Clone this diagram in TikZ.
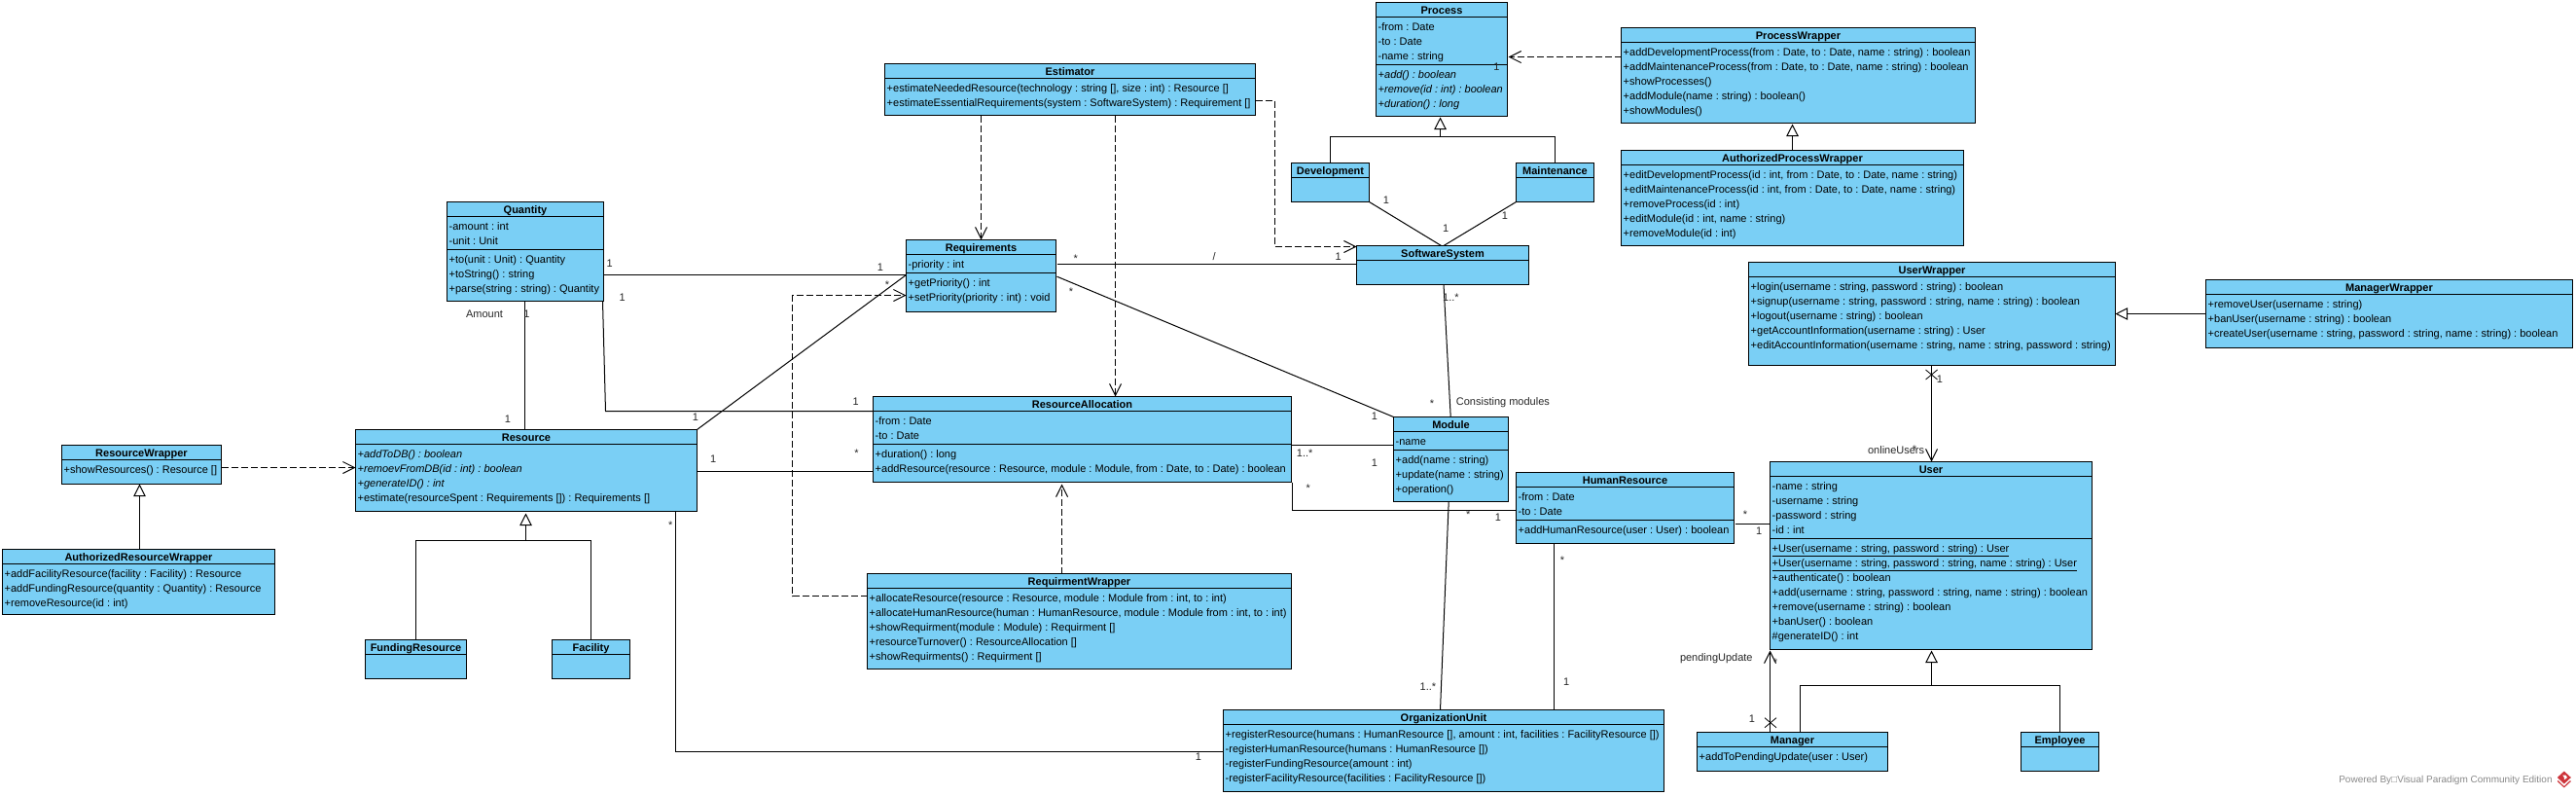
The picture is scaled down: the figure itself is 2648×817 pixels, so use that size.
\documentclass[tikz,border=0pt]{standalone}
\usepackage{fontspec}
\setmainfont{Liberation Sans}
\usetikzlibrary{arrows.meta,calc}
\definecolor{umlblue}{RGB}{122,207,245}
\definecolor{vpgray}{RGB}{136,136,136}
\definecolor{vpred}{RGB}{205,52,58}
\frenchspacing
\tikzset{
  umlbox/.style={draw=black,fill=umlblue,line width=1pt,inner sep=0pt,outer sep=0pt,anchor=north west},
  umltitle/.style={inner sep=0pt,anchor=base,font=\fontsize{11}{13}\selectfont\bfseries},
  umlrow/.style={inner sep=0pt,anchor=base west,font=\fontsize{11}{13}\selectfont},
  lbl/.style={inner sep=0pt,anchor=base,font=\fontsize{11}{13}\selectfont,text=black!85},
  conn/.style={line width=1pt,draw=black},
  dep/.style={conn,dash pattern=on 7pt off 3pt,-{Straight Barb[length=12pt,width=12pt,line width=1pt]}},
  gen/.style={conn,-{Triangle[open,fill=white,length=12.5pt,width=12.5pt,line width=1pt]}},
  nav/.style={conn,-{Straight Barb[length=12pt,width=12pt,line width=1pt]}}
}
% id L T R B title nAttr attrs ops
\newcommand{\umlclass}[9]{%
  \pgfmathsetmacro{\xL}{floor(#2)+.5}\pgfmathsetmacro{\xR}{floor(#4)+.5}%
  \pgfmathsetmacro{\yT}{floor(#3)+.5}\pgfmathsetmacro{\yB}{floor(#5)+.5}%
  \pgfmathsetmacro{\bw}{\xR-\xL}\pgfmathsetmacro{\bh}{\yB-\yT}%
  \node[umlbox,minimum width=\bw pt,minimum height=\bh pt] (#1) at (\xL,\yT) {};
  \draw[line width=1pt] (#1.north west)++(0,-15pt) -- ++(\bw pt,0);
  \node[umltitle] (#1-t) at ({(\xL+\xR)/2},{\yT+12}) {#6};
  \pgfmathsetmacro{\opsy}{\yT+29}%
  \ifnum#7>0
    \foreach \rowtxt [count=\rowidx] in {#8} {
      \node[umlrow] (#1-a\rowidx) at ({\xL+2},{\yT+29+15*(\rowidx-1)}) {\rowtxt};
    }
    \pgfmathsetmacro{\sepy}{15+15*#7+4}%
    \draw[line width=1pt] (#1.north west)++(0,-\sepy pt) -- ++(\bw pt,0);
    \pgfmathsetmacro{\opsy}{\yT+\sepy+14}%
  \fi
  \if\relax\detokenize{#9}\relax\else
    \foreach \rowtxt [count=\rowidx] in {#9} {
      \node[umlrow] (#1-o\rowidx) at ({\xL+2},{\opsy+15*(\rowidx-1)}) {\rowtxt};
    }
  \fi
}
\newcommand{\lab}[4]{\node[lbl] (#1) at (#2,{#3+4}) {#4};}
\newcommand{\st}[3]{\node[lbl] (#1) at (#2,{#3+6}) {*};}
\newcommand{\nonav}[3]{%
  \coordinate (#1) at (#2,#3);
  \draw[line width=.8pt] ($(#1)+(-6,-5)$) -- ($(#1)+(6,5)$);
  \draw[line width=.8pt] ($(#1)+(-6,5)$) -- ($(#1)+(6,-5)$);
}
\begin{document}
\begin{tikzpicture}[x=1pt,y=-1pt]
\useasboundingbox (0,0) rectangle (2648,817);

\umlclass{Quantity}{459.4}{207.3}{620.5}{309.3}{Quantity}{2}{{-amount : int},{-unit : Unit}}{{+to(unit : Unit) : Quantity},{+toString() : string},{+parse(string : string) : Quantity}}
\umlclass{Resource}{365.6}{441.3}{716.6}{525.3}{Resource}{0}{}{{\itshape +addToDB() : boolean},{\itshape +remoevFromDB(id : int) : boolean},{\itshape +generateID() : int},{+estimate(resourceSpent : Requirements []) : Requirements []}}
\umlclass{ResourceWrapper}{63.4}{457.3}{227.2}{497.3}{ResourceWrapper}{0}{}{{+showResources() : Resource []}}
\umlclass{AuthorizedResourceWrapper}{2.2}{564.3}{282.6}{631.3}{AuthorizedResourceWrapper}{0}{}{{+addFacilityResource(facility : Facility) : Resource},{+addFundingResource(quantity : Quantity) : Resource},{+removeResource(id : int)}}
\umlclass{FundingResource}{375.4}{657.3}{479.5}{697.3}{FundingResource}{0}{}{}
\umlclass{Facility}{567.4}{657.3}{647.3}{697.3}{Facility}{0}{}{}
\umlclass{Estimator}{909.4}{65.3}{1290.6}{118.3}{Estimator}{0}{}{{+estimateNeededResource(technology : string [], size : int) : Resource []},{+estimateEssentialRequirements(system : SoftwareSystem) : Requirement []}}
\umlclass{Requirements}{931.3}{246.3}{1085.3}{320.3}{Requirements}{1}{{-priority : int}}{{+getPriority() : int},{+setPriority(priority : int) : void}}
\umlclass{Process}{1414.3}{2.3}{1549.8}{119.3}{Process}{3}{{-from : Date},{-to : Date},{-name : string}}{{\itshape +add() : boolean},{\itshape +remove(id : int) : boolean},{\itshape +duration() : long}}
\umlclass{Development}{1327.3}{167.3}{1407.7}{207.3}{Development}{0}{}{}
\umlclass{Maintenance}{1558.4}{167.3}{1638.8}{207.3}{Maintenance}{0}{}{}
\umlclass{SoftwareSystem}{1394.7}{252.3}{1571.8}{292.3}{SoftwareSystem}{0}{}{}
\umlclass{ProcessWrapper}{1666.5}{28.3}{2030.6}{126.3}{ProcessWrapper}{0}{}{{+addDevelopmentProcess(from : Date, to : Date, name : string) : boolean},{+addMaintenanceProcess(from : Date, to : Date, name : string) : boolean},{+showProcesses()},{+addModule(name : string) : boolean()},{+showModules()}}
\umlclass{AuthorizedProcessWrapper}{1666.5}{154.3}{2018.7}{252.3}{AuthorizedProcessWrapper}{0}{}{{+editDevelopmentProcess(id : int, from : Date, to : Date, name : string)},{+editMaintenanceProcess(id : int, from : Date, to : Date, name : string)},{+removeProcess(id : int)},{+editModule(id : int, name : string)},{+removeModule(id : int)}}
\umlclass{UserWrapper}{1797.6}{269.3}{2174.3}{375.3}{UserWrapper}{0}{}{{+login(username : string, password : string) : boolean},{+signup(username : string, password : string, name : string) : boolean},{+logout(username : string) : boolean},{+getAccountInformation(username : string) : User},{+editAccountInformation(username : string, name : string, password : string)}}
\umlclass{ManagerWrapper}{2267.4}{287.3}{2644.7}{357.3}{ManagerWrapper}{0}{}{{+removeUser(username : string)},{+banUser(username : string) : boolean},{+createUser(username : string, password : string, name : string) : boolean}}
\umlclass{ResourceAllocation}{897.6}{407.3}{1327.4}{495.3}{ResourceAllocation}{2}{{-from : Date},{-to : Date}}{{+duration() : long},{+addResource(resource : Resource, module : Module, from : Date, to : Date) : boolean}}
\umlclass{RequirmentWrapper}{891.7}{589.3}{1327.4}{687.3}{RequirmentWrapper}{0}{}{{+allocateResource(resource : Resource, module : Module from : int, to : int)},{+allocateHumanResource(human : HumanResource, module : Module from : int, to : int)},{+showRequirment(module : Module) : Requirment []},{+resourceTurnover() : ResourceAllocation []},{+showRequirments() : Requirment []}}
\umlclass{OrganizationUnit}{1257.6}{729.3}{1710.7}{813.3}{OrganizationUnit}{0}{}{{+registerResource(humans : HumanResource [], amount : int, facilities : FacilityResource [])},{-registerHumanResource(humans : HumanResource [])},{-registerFundingResource(amount : int)},{-registerFacilityResource(facilities : FacilityResource [])}}
\umlclass{Module}{1432.7}{428.3}{1550.5}{515.3}{Module}{1}{{-name}}{{+add(name : string)},{+update(name : string)},{+operation()}}
\umlclass{HumanResource}{1558.7}{485.3}{1782.7}{558.3}{HumanResource}{2}{{-from : Date},{-to : Date}}{{+addHumanResource(user : User) : boolean}}
\umlclass{User}{1819.4}{474.3}{2150.5}{667.3}{User}{4}{{-name : string},{-username : string},{-password : string},{-id : int}}{{\underline{+User(username : string, password : string) : User}},{\underline{+User(username : string, password : string, name : string) : User}},{+authenticate() : boolean},{+add(username : string, password : string, name : string) : boolean},{+remove(username : string) : boolean},{+banUser() : boolean},{\#generateID() : int}}
\umlclass{Manager}{1744.4}{752.3}{1940.3}{792.3}{Manager}{0}{}{{+addToPendingUpdate(user : User)}}
\umlclass{Employee}{2077.6}{752.3}{2157.7}{792.3}{Employee}{0}{}{}

% ---------- dependencies
\draw[dep] ([yshift=-3pt]ResourceWrapper.east) -- ([yshift=-3pt]ResourceWrapper.east -| Resource.west);
\coordinate (c9) at (814.5,450);
\draw[dep] ([yshift=26pt]RequirmentWrapper.west) -| (c9) |- ([yshift=-20pt]Requirements.west);
\draw[dep,shorten >=2pt] ([xshift=-18pt]RequirmentWrapper.north) -- ([xshift=-18pt]RequirmentWrapper.north |- ResourceAllocation.south);
\draw[dep] ([xshift=-91.5pt]Estimator.south) -- ([xshift=-91.5pt]Estimator.south |- Requirements.north);
\draw[dep] ([xshift=46.5pt]Estimator.south) -- ([xshift=46.5pt]Estimator.south |- ResourceAllocation.north);
\coordinate (c13) at (1310.5,200);
\draw[dep] ([yshift=-11.5pt]Estimator.east) -| (c13) |- ([yshift=19pt]SoftwareSystem.west);
\draw[dep,shorten >=1pt] ([yshift=19pt]ProcessWrapper.west) -- ([yshift=19pt]ProcessWrapper.west -| Process.east);

% ---------- generalisations
\draw[gen] ([xshift=1pt]AuthorizedResourceWrapper.north) -- ([xshift=1pt]AuthorizedResourceWrapper.north |- ResourceWrapper.south);
\coordinate (treeR) at (540.5,555.5);
\draw[conn] (FundingResource.north) |- (treeR);
\draw[conn] (Facility.north) |- (treeR);
\draw[gen,shorten >=2pt] (treeR) -- (treeR |- Resource.south);
\coordinate (treeP) at (1480.5,140.5);
\draw[conn] (Development.north) |- (treeP);
\draw[conn] (Maintenance.north) |- (treeP);
\draw[gen,shorten >=1pt] (treeP) -- (treeP |- Process.south);
\draw[gen,shorten >=1pt] (AuthorizedProcessWrapper.north) -- (AuthorizedProcessWrapper.north |- ProcessWrapper.south);
\coordinate (treeU) at (1985.5,704.5);
\draw[conn] ([xshift=8pt]Manager.north) |- (treeU);
\draw[conn] (Employee.north) |- (treeU);
\draw[gen,shorten >=1pt] (treeU) -- (treeU |- User.south);
\draw[gen] (ManagerWrapper.west) -- (UserWrapper.east);

% ---------- associations
\draw[conn] ([xshift=-.5pt]Quantity.south) -- ([xshift=-.5pt]Quantity.south |- Resource.north);
\draw[conn] ([yshift=-24pt]Quantity.east) -- ([yshift=1pt]Requirements.west);
\coordinate (c5) at (622.5,422.5);
\draw[conn] ([xshift=-1pt]Quantity.south east) -- (c5) -- ([yshift=29pt]ResourceAllocation.west);
\draw[conn] (Resource.north east) -- ([yshift=1pt]Requirements.west);
\draw[conn] ([yshift=-1pt]Resource.east) -- ([yshift=-33pt]ResourceAllocation.west);
\draw[conn] ([xshift=-22pt]Resource.south east) |- ([yshift=-1pt]OrganizationUnit.west);
\draw[conn] ([xshift=1pt,yshift=12pt]Requirements.east) -- ([yshift=1pt]SoftwareSystem.west);
\draw[conn] ([xshift=1pt,yshift=-.7pt]Requirements.east) -- (Module.north west);
\draw[conn] (Development.south east) -- ([xshift=-1.45pt]SoftwareSystem.north);
\draw[conn] (Maintenance.south west) -- ([xshift=1pt]SoftwareSystem.north);
\draw[conn] ([xshift=1pt]SoftwareSystem.south) -- ([xshift=-.3pt]Module.north);
\draw[conn] ([yshift=-6pt]ResourceAllocation.east) -- ([yshift=14.5pt]Module.west);
\draw[conn] ([xshift=1pt]ResourceAllocation.south east) |- ([yshift=-2.5pt]HumanResource.west);
\draw[conn] ([xshift=-2.3pt]Module.south) -- ([xshift=-3.5pt]OrganizationUnit.north);
\draw[conn] ([xshift=-73pt]HumanResource.south) -- ([xshift=-73pt]HumanResource.south |- OrganizationUnit.north);
\draw[conn] ([xshift=1pt,yshift=-16.5pt]HumanResource.east) -- ([yshift=32.5pt]User.west);
\draw[nav] ([xshift=-.5pt]UserWrapper.south) -- ([xshift=-.5pt]UserWrapper.south |- User.north);
\draw[nav,shorten >=1pt] ([xshift=-23pt]Manager.north) -- ([xshift=-23pt]Manager.north |- User.south);
\nonav{xUW}{1985.5}{385}
\nonav{xMg}{1820}{742.7}

% ---------- labels
\lab{l1}{498}{322.3}{Amount}
\lab{l2}{541.5}{322.3}{1}
\lab{l3}{521.9}{430}{1}
\lab{l4}{626.8}{270}{1}
\lab{l5}{904.9}{274.3}{1}
\lab{l6}{639.7}{305}{1}
\lab{l7}{879.7}{412.3}{1}
\st{l8}{912}{290}
\lab{l9}{714.9}{428.3}{1}
\lab{l10}{733.3}{471}{1}
\st{l11}{880.6}{463.3}
\st{l12}{689.2}{537.7}
\lab{l13}{1231.9}{777.3}{1}
\st{l14}{1105.8}{263.3}
\lab{l15}{1248.2}{263.3}{/}
\lab{l16}{1375.6}{263.3}{1}
\st{l17}{1100.9}{297.7}
\lab{l18}{1412.8}{427}{1}
\lab{l19}{1424.9}{205.3}{1}
\lab{l20}{1486.1}{234.3}{1}
\lab{l21}{1546.9}{221.3}{1}
\lab{l22}{1538.3}{68.3}{1}
\lab{l23}{1491.4}{305}{1..*}
\st{l24}{1471.9}{412.3}
\lab{l25}{1544.9}{412.3}{Consisting modules}
\lab{l26}{1341.2}{465}{1..*}
\lab{l27}{1412.8}{475.3}{1}
\st{l28}{1344.8}{499}
\st{l29}{1509.2}{526.7}
\lab{l30}{1539.8}{531.3}{1}
\lab{l31}{1467.9}{705}{1..*}
\st{l32}{1606.1}{573}
\lab{l33}{1610.2}{700}{1}
\st{l34}{1793.9}{526}
\lab{l35}{1808.2}{545.3}{1}
\lab{l36}{1994}{389.3}{1}
\lab{l37}{1949.1}{462.3}{onlineUsers}
\st{l38}{1968}{459}
\lab{l39}{1764.3}{675.3}{pendingUpdate}
\st{l40}{1825}{678}
\lab{l41}{1801}{738.3}{1}

% ---------- footer
\node[inner sep=0pt,anchor=base west,font=\fontsize{10}{12}\selectfont,text=vpgray] (footer) at (2404.1,804.4) {Powered By□Visual Paradigm Community Edition};
\fill[vpred] (2635.8,792.5) -- (2642.8,799) -- (2635.8,805.5) -- (2628.8,799) -- cycle;
\fill[vpred] (2629.5,802) -- (2635.8,808) -- (2642,802) -- (2642.8,803) -- (2635.8,809.5) -- (2628.8,803) -- cycle;
\fill[white] (2634.2,796.5) -- (2637.4,796.5) -- (2639,799) -- (2635.8,801.5) -- (2635.8,799) -- cycle;
\end{tikzpicture}
\end{document}
